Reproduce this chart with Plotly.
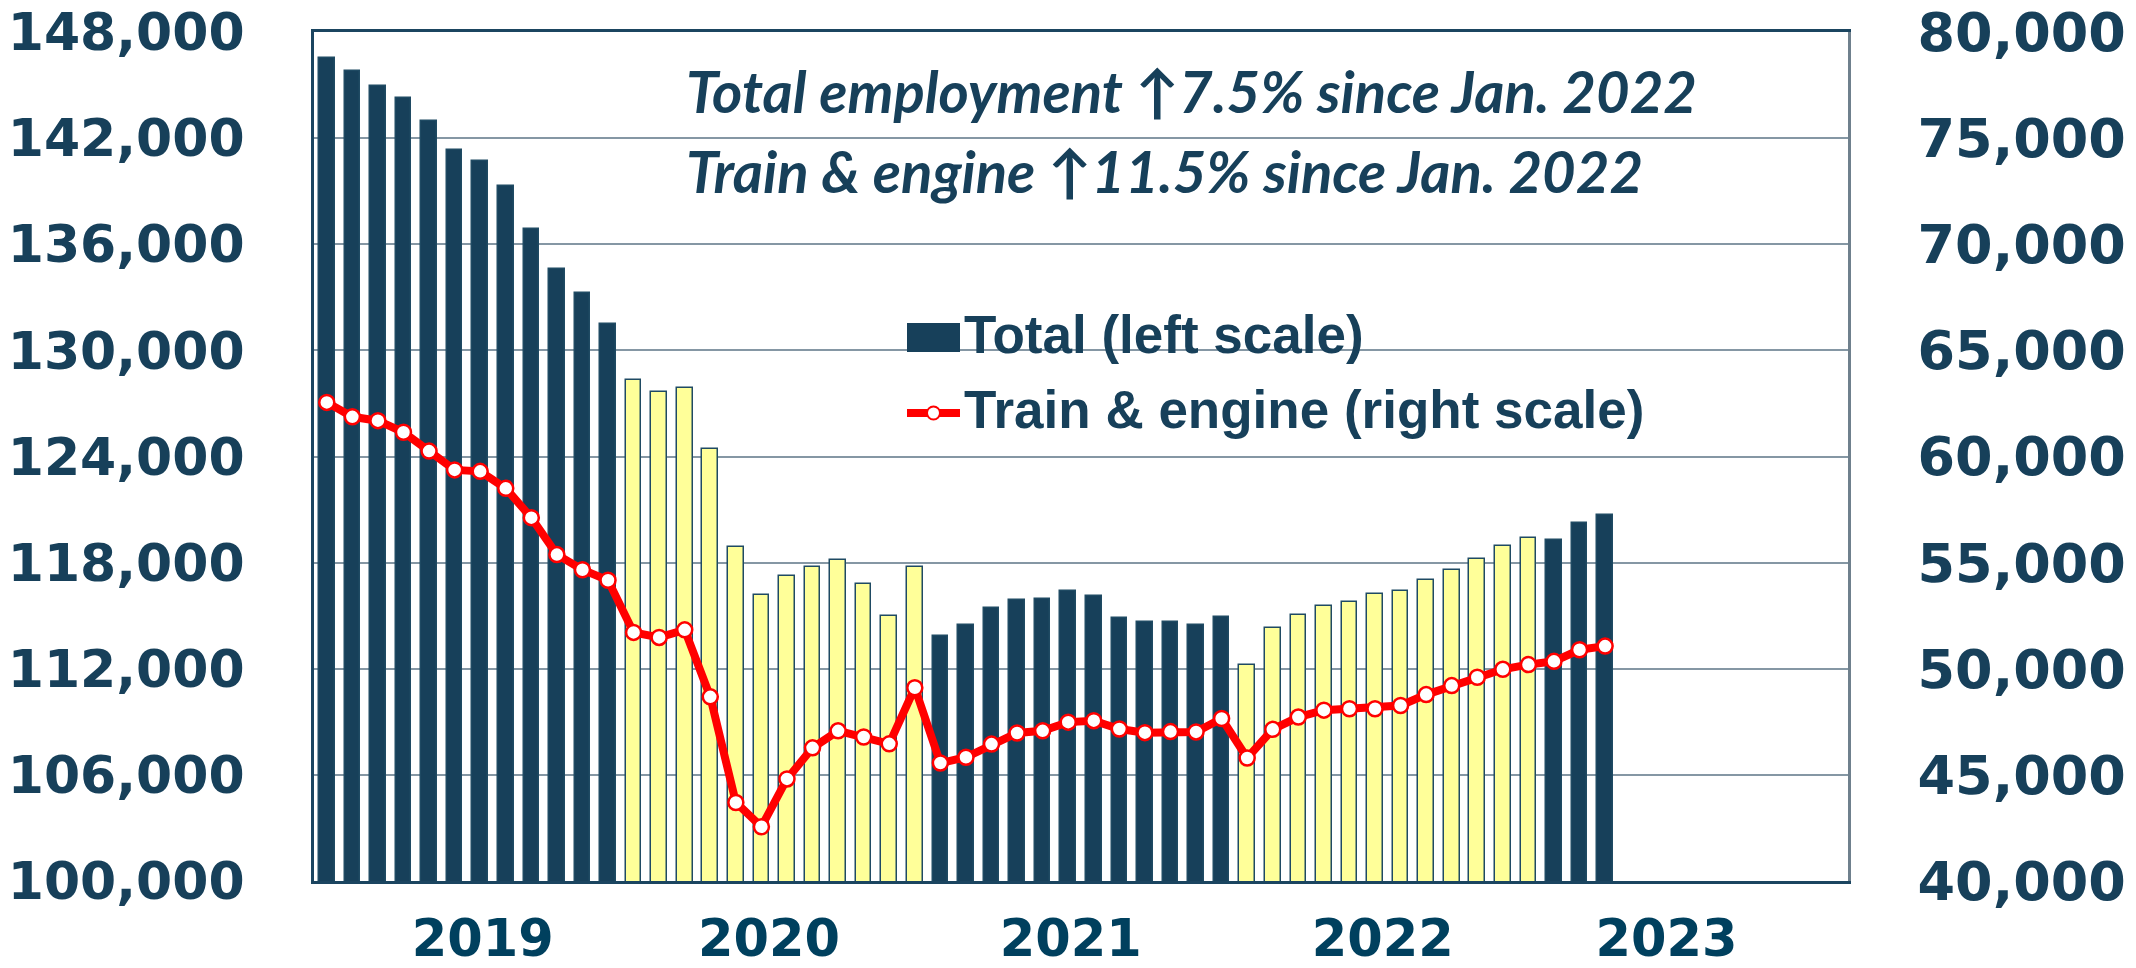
import plotly.graph_objects as go

# ---------------- data ----------------
years = [2019] * 12 + [2020] * 12 + [2021] * 12 + [2022] * 12 + [2023] * 3
month_num = list(range(1, 13)) * 4 + [1, 2, 3]
months = [f"{y}-{m:02d}" for y, m in zip(years, month_num)]

total = [146555, 145804, 144957, 144241, 142943, 141345, 140703, 139292, 136865, 134607, 133235, 131503,
         128325, 127648, 127873, 124450, 118905, 116143, 117248, 117780, 118148, 116818, 114977, 117780,
         113851, 114486, 115407, 115898, 115939, 116368, 116102, 114875, 114670, 114670, 114466, 114936,
         112215, 114281, 115059, 115529, 115775, 116245, 116409, 117043, 117596, 118230, 118946, 119376,
         119294, 120235, 120706]

train_engine = [62550, 61870, 61688, 61142, 60256, 59369, 59301, 58500, 57118, 55379, 54663, 54169,
                51713, 51475, 51833, 48678, 43700, 42557, 44808, 46274, 47076, 46786, 46462, 49105,
                45558, 45831, 46450, 46974, 47076, 47485, 47553, 47161, 46990, 47040, 47023, 47655,
                45797, 47144, 47724, 48048, 48116, 48116, 48269, 48781, 49207, 49599, 49974, 50196,
                50349, 50895, 51066]

year_labels = ["2019", "2020", "2021", "2022", "2023"]
left_ticks = list(range(100000, 148001, 6000))
right_ticks = list(range(40000, 80001, 5000))

# ---------------- styling ----------------
NAVY = "#17405A"
YEAR_BLUE = "#00405E"
YELLOW = "#FFFF99"
GRID = "#8597A4"

W, H = 2136, 968          # page size
OFF = 8                   # default body margin of the page
FW, FH = W - 2 * OFF, H - 2 * OFF
L, R, T, B = 314, 1848, 32, 881   # plot area in page pixels


def px(xp):
    return (xp - L) / (R - L)


def py(yp):
    return (B - yp) / (B - T)


x_idx = list(range(len(total)))
bar_colors = [YELLOW if y in (2020, 2022) else NAVY for y in years]
year_pos = [6.1, 17.3, 29.1, 41.3, 52.4]

fig = go.Figure()
fig.add_trace(go.Bar(
    x=x_idx, y=total, width=0.61, name="Total (left scale)",
    customdata=months, hovertemplate="%{customdata}: %{y:,}<extra></extra>",
    marker=dict(color=bar_colors, line=dict(color="#1F4A63", width=1.5)),
    yaxis="y",
))
fig.add_trace(go.Scatter(
    x=x_idx, y=train_engine, name="Train & engine (right scale)", yaxis="y2",
    customdata=months, hovertemplate="%{customdata}: %{y:,}<extra></extra>",
    mode="lines+markers",
    line=dict(color="#FF0000", width=8),
    marker=dict(size=15, color="white", line=dict(color="#FF0000", width=2.5)),
))

shapes = [
    # white box behind annotation text (hides gridline)
    dict(type="rect", xref="paper", yref="paper", x0=px(665), x1=px(1771), y0=py(225), y1=py(40),
         fillcolor="white", line=dict(width=0), layer="between"),
    # white box behind legend
    dict(type="rect", xref="paper", yref="paper", x0=px(879), x1=px(1680), y0=py(440), y1=py(296),
         fillcolor="white", line=dict(width=0), layer="between"),
    # legend symbol: bar
    dict(type="rect", xref="paper", yref="paper", x0=px(907), x1=px(960), y0=py(352), y1=py(323),
         fillcolor=NAVY, line=dict(width=0), layer="above"),
    # legend symbol: line
    dict(type="line", xref="paper", yref="paper", x0=px(907), x1=px(960), y0=py(413), y1=py(413),
         line=dict(color="#FF0000", width=8), layer="above"),
    dict(type="circle", xref="paper", yref="paper", x0=px(927), x1=px(940), y0=py(419.5), y1=py(406.5),
         fillcolor="white", line=dict(color="#FF0000", width=2), layer="above"),
]

ann_font = dict(family="Lato", size=58, color=NAVY, weight="bold", style="italic")
leg_font = dict(family="Liberation Sans, Arial", size=53, color=NAVY, weight="bold")
annotations = [
    dict(text="Total employment \u21917.5% since Jan. 2022", xref="paper", yref="paper",
         x=px(684), y=py(90), xanchor="left", yanchor="middle", showarrow=False, font=ann_font),
    dict(text="Train & engine \u219111.5% since Jan. 2022", xref="paper", yref="paper",
         x=px(684), y=py(170), xanchor="left", yanchor="middle", showarrow=False, font=ann_font),
    dict(text="Total (left scale)", xref="paper", yref="paper",
         x=px(962), y=py(334), xanchor="left", yanchor="middle", showarrow=False, font=leg_font),
    dict(text="Train & engine (right scale)", xref="paper", yref="paper",
         x=px(962), y=py(409), xanchor="left", yanchor="middle", showarrow=False, font=leg_font),
]

tick_font = dict(family="DejaVu Sans", size=52, color=NAVY, weight="bold")

fig.update_layout(
    width=FW, height=FH,
    margin=dict(l=L - OFF, r=W - OFF - R, t=T - OFF, b=H - OFF - B, pad=0, autoexpand=False),
    paper_bgcolor="white", plot_bgcolor="white",
    showlegend=False,
    bargap=0,
    shapes=shapes,
    annotations=annotations,
    xaxis=dict(
        range=[-0.5, 59.5], tickmode="array", tickvals=year_pos, ticktext=year_labels,
        tickfont=dict(family="DejaVu Sans", size=51, color=YEAR_BLUE, weight="bold"),
        showgrid=False, zeroline=False, ticks="", ticklabelstandoff=11, automargin=False,
        ticklabeloverflow="allow",
        showline=True, linecolor="#1B4560", linewidth=3, mirror=True,
    ),
    yaxis=dict(
        range=[100000, 148000], tickmode="array", tickvals=left_ticks, tickformat=",",
        tickfont=tick_font, showgrid=True, gridcolor=GRID, gridwidth=1.5, zeroline=False,
        showline=True, linecolor="#1B4560", linewidth=3, ticks="", ticklabelstandoff=56,
        automargin=False, ticklabeloverflow="allow",
    ),
    yaxis2=dict(
        range=[40000, 80000], tickmode="array", tickvals=right_ticks, tickformat=",",
        overlaying="y", side="right",
        tickfont=dict(family="DejaVu Sans", size=54, color=NAVY, weight="bold"),
        showgrid=False, zeroline=False, automargin=False, ticklabeloverflow="allow",
        showline=True, linecolor="#6F808D", linewidth=2.5, ticks="", ticklabelstandoff=56,
    ),
)

fig.write_html("out.html")
